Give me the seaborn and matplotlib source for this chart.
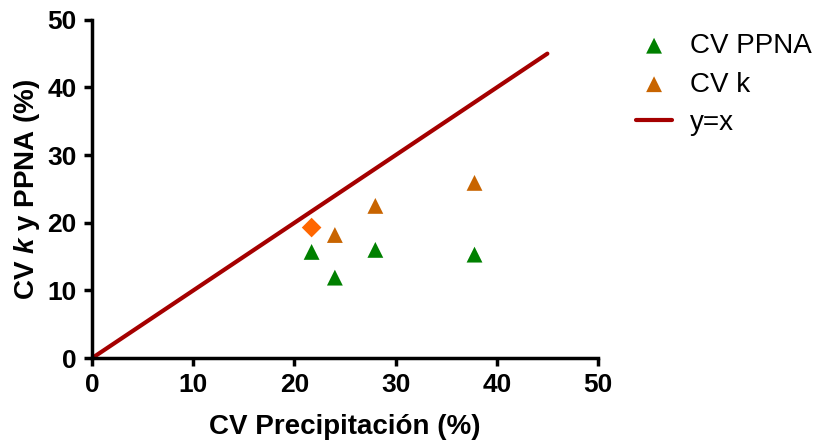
import pandas as pd
import seaborn as sns
import matplotlib.pyplot as plt

sns.set_style('ticks')
plt.rcParams['font.family'] = ['Liberation Sans', 'DejaVu Sans']
plt.rcParams['mathtext.fontset'] = 'custom'
plt.rcParams['mathtext.it'] = 'Liberation Sans:bold:italic'
plt.rcParams['mathtext.rm'] = 'Liberation Sans:bold'
plt.rcParams['text.color'] = 'black'
plt.rcParams['axes.labelcolor'] = 'black'
plt.rcParams['xtick.color'] = 'black'
plt.rcParams['ytick.color'] = 'black'

# data
cv_precip = [21.7, 24.0, 28.0, 37.8]
cv_ppna = [15.7, 11.9, 16.0, 15.3]
cv_k_precip = [24.0, 28.0, 37.8]
cv_k = [18.2, 22.5, 25.9]
diamond_x = [21.7]
diamond_y = [19.3]
line_x = [0, 45]
line_y = [0, 45]

ppna_df = pd.DataFrame({'x': cv_precip, 'y': cv_ppna})
k_df = pd.DataFrame({'x': cv_k_precip, 'y': cv_k})

fig, ax = plt.subplots(figsize=(8.18, 4.4), dpi=100)
fig.subplots_adjust(left=0.1125, right=0.731, bottom=0.186, top=0.955)

sns.lineplot(x=line_x, y=line_y, color='#a50000', linewidth=3, ax=ax, label='y=x', zorder=1)
sns.scatterplot(data=ppna_df, x='x', y='y', marker='^', s=130, color='#008000',
                edgecolor='none', ax=ax, label='CV PPNA', zorder=3)
sns.scatterplot(data=k_df, x='x', y='y', marker='^', s=130, color='#c86400',
                edgecolor='none', ax=ax, label='CV k', zorder=3)
sns.scatterplot(x=diamond_x, y=diamond_y, marker='D', s=100, color='#ff6600',
                edgecolor='none', ax=ax, zorder=3)

ax.set_xlim(0, 50)
ax.set_ylim(0, 50)
ax.set_xticks(range(0, 51, 10))
ax.set_yticks(range(0, 51, 10))
ax.margins(0)
sns.despine(ax=ax)
for s in ['left', 'bottom']:
    ax.spines[s].set_linewidth(2.5)
    ax.spines[s].set_color('black')
ax.tick_params(width=2.5, length=6, color='black', labelsize=19, pad=5)
for lab in ax.get_xticklabels() + ax.get_yticklabels():
    lab.set_fontweight('bold')

ax.set_xlabel('CV Precipitación (%)', fontsize=20, fontweight='bold', labelpad=12)
ax.set_ylabel(r'CV $\mathit{k}$ y PPNA (%)', fontsize=20, fontweight='bold', labelpad=4)

handles, labels = ax.get_legend_handles_labels()
ax.get_legend().remove()
order = [labels.index('CV PPNA'), labels.index('CV k'), labels.index('y=x')]
fig.legend([handles[i] for i in order], [labels[i] for i in order],
           loc='upper left', bbox_to_anchor=(0.7775, 0.925), frameon=False,
           borderaxespad=0, borderpad=0,
           fontsize=20, handlelength=1.3, labelspacing=0.45, handletextpad=0.65)

fig.savefig('out.png', dpi=100)
